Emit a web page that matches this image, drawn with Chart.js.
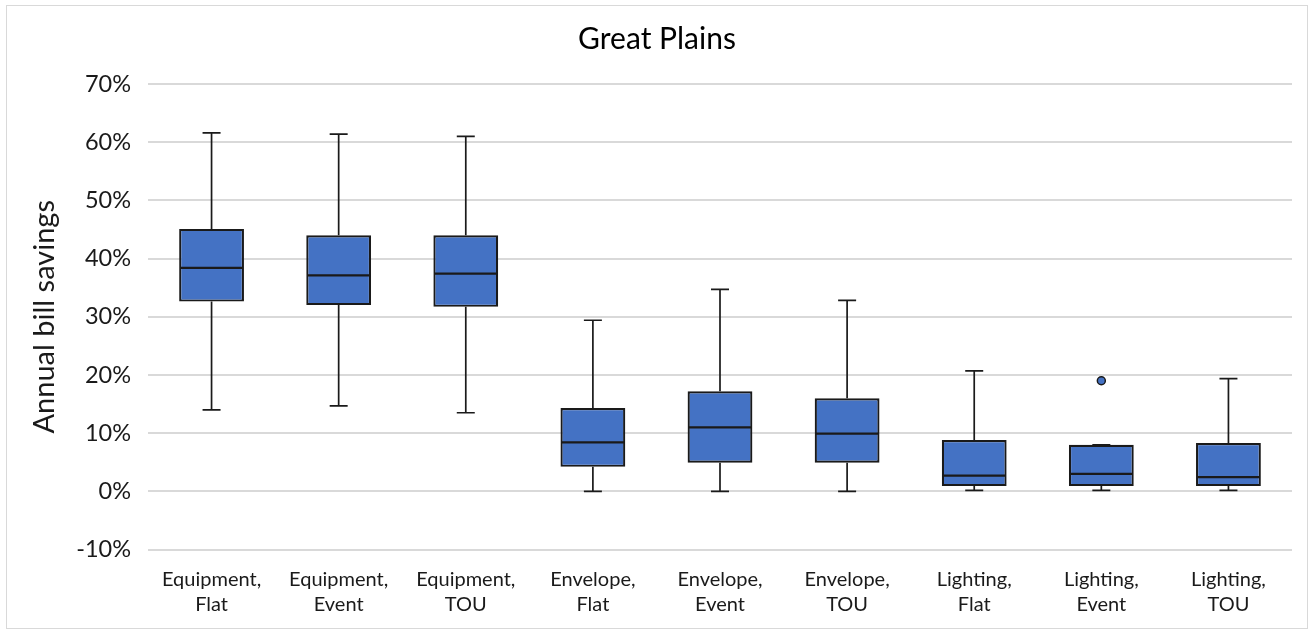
<!DOCTYPE html>
<html>
<head>
<meta charset="utf-8">
<script src="https://cdn.jsdelivr.net/npm/chart.js@4.4.1/dist/chart.umd.min.js"></script>
<style>
html,body{margin:0;padding:0;background:#ffffff;}
#wrap{width:1311px;height:632px;position:relative;}
</style>
</head>
<body>
<div id="wrap"><canvas id="c" width="1311" height="632"></canvas></div>
<script>
const chartTitle = 'Great Plains';
const yAxisTitle = 'Annual bill savings';
const categories = [
  ['Equipment,', 'Flat'], ['Equipment,', 'Event'], ['Equipment,', 'TOU'],
  ['Envelope,', 'Flat'], ['Envelope,', 'Event'], ['Envelope,', 'TOU'],
  ['Lighting,', 'Flat'], ['Lighting,', 'Event'], ['Lighting,', 'TOU']
];
// values in percent
const whiskerLow  = [14.0, 14.7, 13.5, 0.0, 0.0, 0.0, 0.15, 0.15, 0.15];
const q1          = [32.6, 32.0, 31.7, 4.2, 4.9, 4.9, 0.9, 0.9, 0.9];
const median      = [38.4, 37.1, 37.4, 8.4, 11.0, 9.9, 2.7, 3.0, 2.45];
const q3          = [45.1, 44.0, 44.0, 14.3, 17.2, 16.0, 8.8, 8.0, 8.3];
const whiskerHigh = [61.6, 61.4, 61.0, 29.4, 34.7, 32.8, 20.7, 8.0, 19.35];
const outliers    = [null, null, null, null, null, null, null, 19.0, null];
const yMin = -10, yMax = 70, yStep = 10;

const FONT = 'Lato, "Open Sans", sans-serif';
const BOX_FILL = '#4472C4';
const LINE = '#1a1a1a';

const framePlugin = {
  id: 'frame',
  beforeDraw(chart) {
    const ctx = chart.ctx;
    ctx.save();
    ctx.fillStyle = '#ffffff';
    ctx.fillRect(0, 0, chart.width, chart.height);
    ctx.strokeStyle = '#d9d9d9';
    ctx.lineWidth = 1;
    ctx.strokeRect(6.5, 5.5, 1301, 623);
    ctx.restore();
  }
};

const whiskerPlugin = {
  id: 'whiskers',
  beforeDatasetsDraw(chart) {
    const ctx = chart.ctx;
    const xs = chart.scales.x, ys = chart.scales.y;
    ctx.save();
    ctx.strokeStyle = LINE;
    ctx.lineWidth = 1.7;
    const capHalf = 9;
    categories.forEach((c, i) => {
      const px = xs.getPixelForValue(i);
      const yHi = ys.getPixelForValue(whiskerHigh[i]);
      const yQ3 = ys.getPixelForValue(q3[i]);
      const yQ1 = ys.getPixelForValue(q1[i]);
      const yLo = ys.getPixelForValue(whiskerLow[i]);
      ctx.beginPath();
      ctx.moveTo(px, yHi); ctx.lineTo(px, yQ3);
      ctx.moveTo(px, yQ1); ctx.lineTo(px, yLo);
      ctx.moveTo(px - capHalf, yHi); ctx.lineTo(px + capHalf, yHi);
      ctx.moveTo(px - capHalf, yLo); ctx.lineTo(px + capHalf, yLo);
      ctx.stroke();
    });
    ctx.restore();
  },
  afterDatasetsDraw(chart) {
    const ctx = chart.ctx;
    const ys = chart.scales.y;
    const meta = chart.getDatasetMeta(0);
    ctx.save();
    ctx.strokeStyle = LINE;
    ctx.lineWidth = 2.2;
    meta.data.forEach((bar, i) => {
      const half = bar.width / 2;
      const ym = ys.getPixelForValue(median[i]);
      ctx.beginPath();
      ctx.moveTo(bar.x - half + 1, ym);
      ctx.lineTo(bar.x + half - 1, ym);
      ctx.stroke();
    });
    ctx.restore();
  }
};

new Chart(document.getElementById('c'), {
  type: 'bar',
  data: {
    labels: categories,
    datasets: [
      {
        label: 'Box',
        data: q1.map((v, i) => [v, q3[i]]),
        backgroundColor: BOX_FILL,
        borderColor: LINE,
        borderWidth: 2.2,
        borderSkipped: false,
        grouped: false,
        barPercentage: 0.51,
        categoryPercentage: 1.0
      },
      {
        type: 'line',
        label: 'Outliers',
        data: outliers,
        showLine: false,
        pointRadius: 4,
        pointBackgroundColor: BOX_FILL,
        pointBorderColor: LINE,
        pointBorderWidth: 1.5
      }
    ]
  },
  options: {
    responsive: false,
    animation: false,
    layout: {padding: {left: 22, right: 19, top: 0, bottom: 0}},
    plugins: {
      legend: {display: false},
      tooltip: {enabled: false},
      title: {
        display: true,
        text: chartTitle,
        color: '#000000',
        font: {family: FONT, size: 30, weight: 'normal', lineHeight: 1.2},
        padding: {top: 21, bottom: 27}
      }
    },
    scales: {
      x: {
        grid: {display: false, drawTicks: false},
        border: {display: false},
        ticks: {
          color: LINE,
          font: {family: FONT, size: 20, lineHeight: 1.25},
          padding: 18,
          maxRotation: 0,
          autoSkip: false
        },
        afterFit(s) { s.height = 82.5; }
      },
      y: {
        min: yMin,
        max: yMax,
        grid: {color: '#d9d9d9', lineWidth: 2, drawTicks: false},
        border: {display: false},
        ticks: {
          stepSize: yStep,
          color: LINE,
          font: {family: FONT, size: 23.5},
          padding: 17,
          callback: v => v + '%'
        },
        title: {
          display: true,
          text: yAxisTitle,
          color: LINE,
          font: {family: FONT, size: 29, lineHeight: 1.2},
          padding: {top: 5.6, bottom: 0}
        },
        afterFit(s) { s.width = 126; }
      }
    }
  },
  plugins: [framePlugin, whiskerPlugin]
});
</script>
</body>
</html>
